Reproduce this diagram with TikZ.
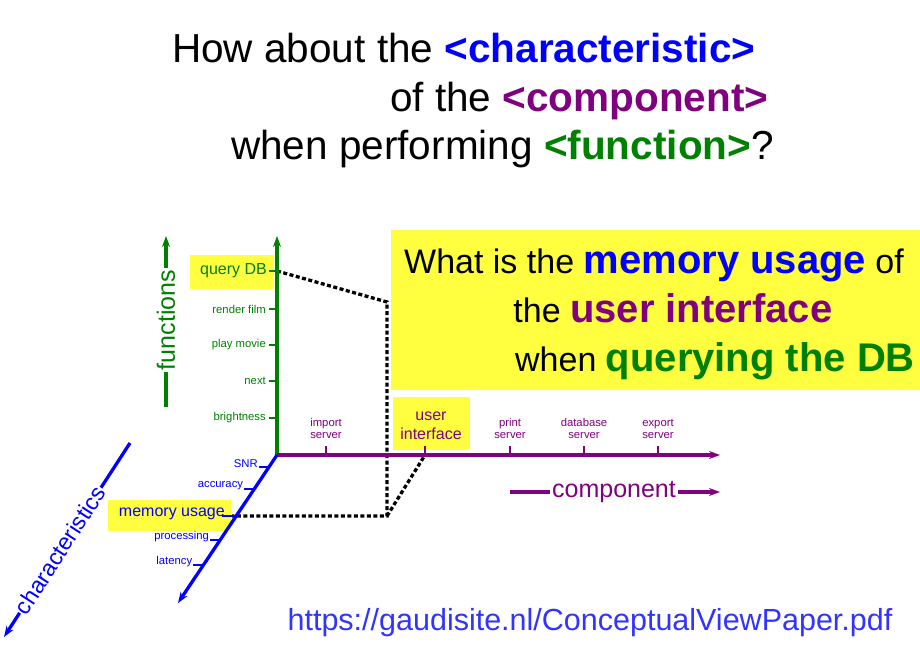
\documentclass[tikz,border=0pt]{standalone}
\usepackage{fontspec}
\setmainfont{Liberation Sans}
\usetikzlibrary{arrows.meta}
\definecolor{gr}{RGB}{0,128,0}
\definecolor{pu}{RGB}{128,0,128}
\definecolor{bl}{RGB}{0,0,255}
\definecolor{ye}{RGB}{255,255,64}
\begin{document}
\begin{tikzpicture}[x=1pt,y=-1pt,
 ax/.style={line width=3.3pt,-{Stealth[length=11pt,width=8pt]}},
 tk/.style={line width=2.7pt},
 sm/.style={font=\fontsize{11.3}{12.5}\selectfont,inner sep=1pt,align=center},
 dsh/.style={black,line width=3.3pt,dash pattern=on 4pt off 2.5pt},
 big/.style={font=\fontsize{40.5}{46}\selectfont,inner sep=0pt}]
\useasboundingbox (0,0) rectangle (920,660);
% title
\node[big,anchor=base west] (t1) at (172,63) {How about the \textcolor{bl}{\textbf{<characteristic>}}};
\node[big,anchor=base west] (t2) at (390,112) {of the \textcolor{pu}{\textbf{<component>}}};
\node[big,anchor=base west] (t3) at (231,160) {when performing \textcolor{gr}{\textbf{<function>}}?};
% yellow boxes
\fill[ye] (391,230) rectangle (920,390);
\node[anchor=base,inner sep=0pt,font=\fontsize{34}{40}\selectfont] (b1) at (654,273) {What is the \textcolor{bl}{\textbf{\fontsize{40}{46}\selectfont memory usage}} of};
\node[anchor=base,inner sep=0pt,font=\fontsize{34}{40}\selectfont] (b2) at (673,322) {the \textcolor{pu}{\textbf{\fontsize{40}{46}\selectfont user interface}}};
\node[anchor=base east,inner sep=0pt,font=\fontsize{34}{40}\selectfont] (b3) at (915,371) {when \textcolor{gr}{\textbf{\fontsize{40}{46}\selectfont querying the DB}}};
\fill[ye] (190,255) rectangle (274,289);
\fill[ye] (108,500) rectangle (231,531);
\fill[ye] (393,397) rectangle (470,450);
% dashed
\coordinate (O) at (277,455);
\coordinate (q) at (277,271);
\coordinate (c1) at (387,302);
\coordinate (c2) at (387,516);
\coordinate (m) at (232,516);
\coordinate (u) at (425,455);
\draw[dsh] (q) -- (c1) -- (c2) -- (m);
\draw[dsh] (c2) -- (u);
% axes
\coordinate (fe) at (277,236);
\coordinate (ce) at (720,455);
\coordinate (ke) at (178,603);
\draw[ax,gr] (O) -- (fe);
\draw[ax,pu] (O) -- (ce);
\draw[ax,bl] (O) -- (ke);
% function ticks
\foreach \y/\t in {309/render film,345/play movie,381/next,418/brightness}{
 \draw[tk,gr] (269,\y) -- (277,\y);
 \node[sm,gr,anchor=east] at (267,\y) {\t};}
\draw[tk,gr] (269,271) -- (277,271);
\node[gr,anchor=east,inner sep=1pt,font=\fontsize{16}{17}\selectfont] (qdb) at (268,271) {query DB};
% component ticks
\foreach \x/\t in {326/import\\server,510/print\\server,584/database\\server,658/export\\server}{
 \draw[tk,pu] (\x,446) -- (\x,455);
 \node[sm,pu,anchor=south] at (\x,440) {\t};}
\draw[tk,pu] (425,446) -- (425,455);
\node[pu,anchor=south,align=center,inner sep=1pt,font=\fontsize{16}{19}\selectfont] (ui) at (431,441) {user\\interface};
% characteristic ticks
\foreach \y/\t in {467/SNR,489/accuracy,540/processing,565/latency}{
 \pgfmathsetmacro\xx{277-0.669*(\y-455)}
 \draw[tk,bl] (\xx-10,\y) -- (\xx,\y);
 \node[sm,bl,anchor=east] at (\xx-10,\y-3) {\t};}
\draw[tk,bl] (222,516) -- (238,516);
\node[bl,anchor=east,inner sep=1pt,font=\fontsize{16}{17}\selectfont] (mu) at (226,514) {memory usage};
% axis labels
\draw[ax,gr] (166,407) -- (166,236);
\node[gr,rotate=90,fill=white,inner sep=2pt,font=\fontsize{25}{27}\selectfont] (fl) at (166,320) {functions};
\draw[ax,pu] (510,492) -- (720,492);
\node[pu,fill=white,inner sep=2pt,font=\fontsize{25}{27}\selectfont] (cl) at (614,492) {component};
\draw[ax,bl] (130,443) -- (4,637);
\node[bl,rotate=57,fill=white,inner sep=1pt,font=\fontsize{23}{25}\selectfont] (kl) at (60,550) {characteristics};
% url
\node[anchor=base,inner sep=0pt,font=\fontsize{30.5}{34}\selectfont,text=bl!80!white] (url) at (590,630) {https://gaudisite.nl/ConceptualViewPaper.pdf};
\end{tikzpicture}
\end{document}
